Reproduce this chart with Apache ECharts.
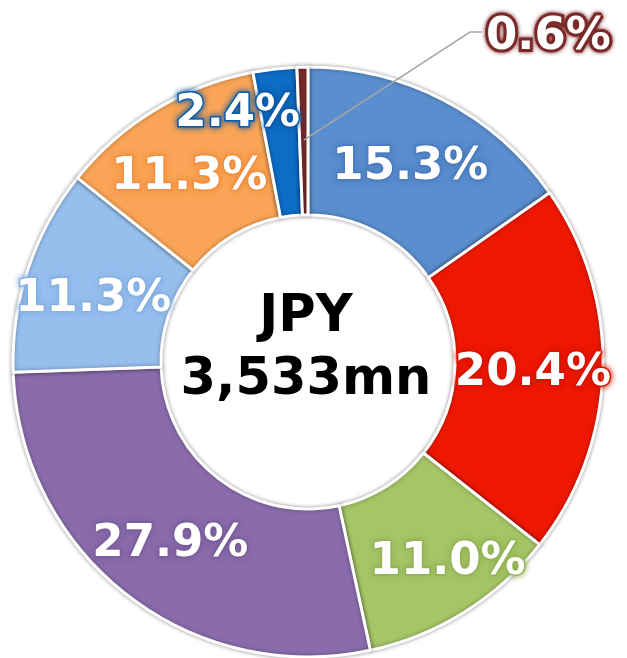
<!DOCTYPE html>
<html>
<head>
<meta charset="utf-8">
<script src="https://cdn.jsdelivr.net/npm/echarts@6/dist/echarts.min.js"></script>
<style>
html,body{margin:0;padding:0;background:#fff;}
#chart{width:627px;height:658px;}
</style>
</head>
<body>
<div id="chart"></div>
<script>
// ---- data ----
const categories = ['Seg1','Seg2','Seg3','Seg4','Seg5','Seg6','Seg7','Seg8'];
const shares = [15.3, 20.4, 11.0, 27.9, 11.3, 11.3, 2.4, 0.6];
const centerLines = ['JPY', '3,533mn'];

// ---- styles / layout ----
const sliceColors = ['#5a8ecf','#ee1800','#a6c566','#8a6cac','#97bfee','#f9a456','#0d6cc5','#7a2a2a'];
const glowColors  = ['#4a7cbd','#d81400','#93b356','#7a5e9c','#86b0e2','#f09040','#0b5aa8','#7a2a2a'];
const nudge = [[-1,4],[1,5],[21,10],[0,6],[-2,8],[-3,7],[-45,-25],[0,0]];
const CX = 308, CY = 362, R0 = 147, R1 = 295, RMID = 222;
const OUT_IDX = 7;

const chart = echarts.init(document.getElementById('chart'), null, {renderer:'canvas'});

const labelFont = {
  fontFamily: 'DejaVu Sans',
  fontWeight: 'bold',
  fontSize: 45,
  color: '#ffffff'
};

const mainData = categories.map((name, i) => ({
  name: name,
  value: shares[i],
  itemStyle: { color: sliceColors[i] },
  label: {
    show: i !== OUT_IDX,
    textBorderColor: glowColors[i],
    textShadowColor: glowColors[i]
  }
}));

// overlay series: invisible sectors, carries only the outside label + leader line (drawn on top)
const overlayData = categories.map((name, i) => ({
  name: name,
  value: shares[i],
  label: i === OUT_IDX ? {
    show: true,
    position: 'outside',
    textBorderColor: glowColors[i],
    textBorderWidth: 6,
    textShadowColor: glowColors[i]
  } : { show: false },
  labelLine: i === OUT_IDX ? { show: true, length: 40, length2: 10 } : { show: false }
}));

chart.setOption({
  animation: false,
  backgroundColor: '#ffffff',
  series: [{
    type: 'pie',
    z: 2,
    center: [CX, CY],
    radius: [R0, R1],
    startAngle: 90,
    clockwise: true,
    avoidLabelOverlap: false,
    itemStyle: {
      borderColor: '#ffffff',
      borderWidth: 3,
      shadowBlur: 4,
      shadowColor: 'rgba(0,0,0,0.35)'
    },
    label: Object.assign({
      show: true,
      position: 'inside',
      formatter: p => p.value.toFixed(1) + '%',
      textBorderWidth: 3,
      textShadowBlur: 6
    }, labelFont),
    labelLine: { show: false },
    labelLayout: function (params) {
      const i = params.dataIndex;
      return { dx: nudge[i][0], dy: nudge[i][1] };
    },
    data: mainData
  }, {
    type: 'pie',
    z: 6,
    silent: true,
    center: [CX, CY],
    radius: [R0, R1],
    startAngle: 90,
    clockwise: true,
    avoidLabelOverlap: false,
    itemStyle: { color: 'rgba(0,0,0,0)', borderWidth: 0 },
    emphasis: { disabled: true },
    label: Object.assign({
      formatter: p => p.value.toFixed(1) + '%',
      textShadowBlur: 4
    }, labelFont),
    labelLine: { lineStyle: { color: '#a6a6a6', width: 1.5 } },
    labelLayout: function (params) {
      if (params.dataIndex !== OUT_IDX) return {};
      const p0 = params.labelLinePoints ? params.labelLinePoints[0] : [CX, CY - R1];
      const ang = Math.atan2(p0[1] - CY, p0[0] - CX);
      const a = [CX + Math.cos(ang) * RMID, CY + Math.sin(ang) * RMID];
      const lx = 486, ly = 37;
      return {
        x: lx, y: ly, align: 'left', verticalAlign: 'middle',
        labelLinePoints: [a, [lx - 16, ly - 5], [lx - 4, ly - 5]]
      };
    },
    data: overlayData
  }],
  graphic: [{
    type: 'text',
    z: 10,
    x: CX - 2,
    y: CY - 13,
    style: {
      text: centerLines.join('\n'),
      x: 0, y: 0,
      align: 'center',
      verticalAlign: 'middle',
      fontFamily: 'DejaVu Sans',
      fontWeight: 'bold',
      fontSize: 51,
      lineHeight: 63,
      fill: '#000000'
    }
  }]
});
</script>
</body>
</html>
